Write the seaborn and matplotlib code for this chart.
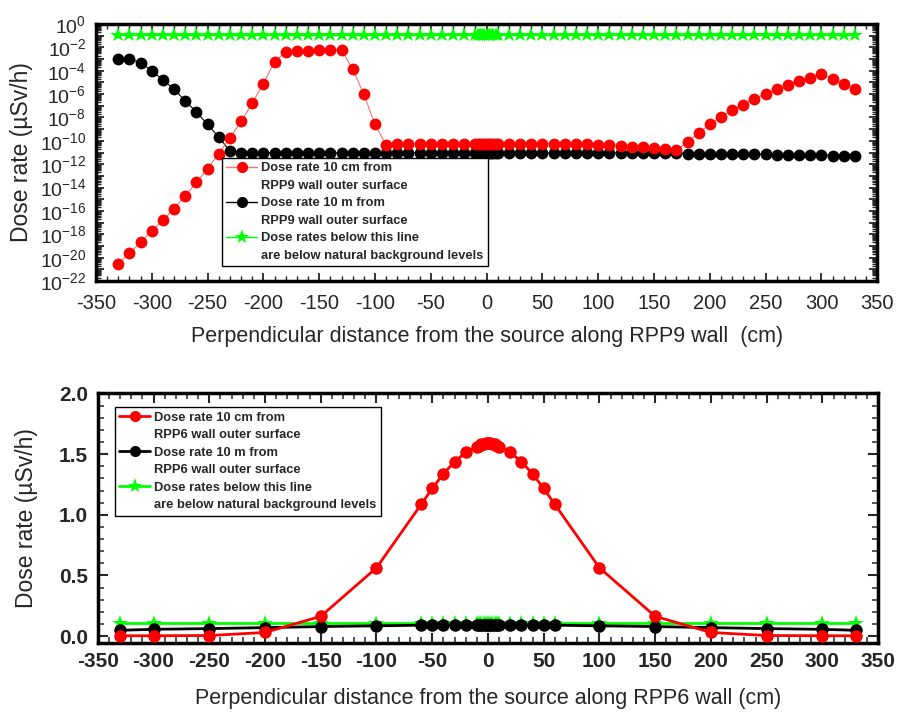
import numpy as np
import pandas as pd
import matplotlib
matplotlib.use("Agg")
import matplotlib.pyplot as plt
import matplotlib.ticker as mticker
from matplotlib.lines import Line2D
import seaborn as sns

# ---------------- data: RPP9 wall (log scale panel) ----------------
x_rpp9 = [-330, -320, -310, -300, -290, -280, -270, -260, -250, -240,
          -230, -220, -210, -200, -190, -180, -170, -160, -150, -140,
          -130, -120, -110, -100, -90, -80, -70, -60, -50, -40,
          -30, -20,
          -10, -8, -6, -4, -2, 0, 2, 4, 6, 8, 10,
          20, 30, 40, 50, 60, 70, 80, 90, 100, 110,
          120, 130, 140, 150, 160, 170, 180, 190, 200, 210,
          220, 230, 240, 250, 260, 270, 280, 290, 300, 310,
          320, 330]

dose_10cm_rpp9 = [3e-21, 2.5e-20, 2e-19, 2e-18, 1.6e-17, 1.6e-16, 2e-15, 2.8e-14, 4e-13, 8e-12,
                  1.8e-10, 4.6e-9, 1.7e-7, 8e-6, 5.8e-4, 4.2e-3, 5.1e-3, 5.1e-3, 5.9e-3, 6.3e-3,
                  6.3e-3, 1.35e-4, 9.5e-7, 2.5e-9, 4.3e-11, 5.5e-11, 5.9e-11, 5.9e-11, 5.9e-11, 5.9e-11,
                  5.9e-11, 5.9e-11,
                  5.9e-11, 5.9e-11, 5.9e-11, 5.9e-11, 5.9e-11, 5.9e-11, 5.9e-11, 5.9e-11, 5.9e-11, 5.9e-11, 5.9e-11,
                  5.9e-11, 5.9e-11, 5.9e-11, 5.9e-11, 5.9e-11, 5.8e-11, 5.6e-11, 5.3e-11, 4.3e-11, 4e-11,
                  3.7e-11, 3.2e-11, 2.8e-11, 2.3e-11, 2.2e-11, 1.8e-11, 7.8e-11, 4.9e-10, 2.5e-9, 1.15e-8,
                  4.4e-8, 1.26e-7, 4.1e-7, 1e-6, 3e-6, 6.5e-6, 1.45e-5, 2.6e-5, 5e-5, 2.1e-5,
                  6.9e-6, 2.6e-6]

dose_10m_rpp9 = [1e-3, 1e-3, 5e-4, 9.8e-5, 1.66e-5, 2.6e-6, 2.6e-7, 2.9e-8, 2.5e-9, 2.1e-10,
                 1.3e-11, 9.3e-12, 9.3e-12, 9.3e-12, 9.3e-12, 9.3e-12, 9.3e-12, 9.3e-12, 9.3e-12, 9.3e-12,
                 9.3e-12, 9.3e-12, 9.3e-12, 9.3e-12, 9.3e-12, 9.3e-12, 9.3e-12, 9.3e-12, 9.3e-12, 9.3e-12,
                 9.3e-12, 9.3e-12,
                 9.3e-12, 9.3e-12, 9.3e-12, 9.3e-12, 9.3e-12, 9.3e-12, 9.3e-12, 9.3e-12, 9.3e-12, 9.3e-12, 9.3e-12,
                 9.3e-12, 9.3e-12, 9.3e-12, 9.3e-12, 9.3e-12, 9.3e-12, 9.3e-12, 9.3e-12, 9.3e-12, 9.3e-12,
                 9.3e-12, 9.3e-12, 9.3e-12, 9.3e-12, 9.3e-12, 9.3e-12, 8.1e-12, 8.1e-12, 8.1e-12, 7.1e-12,
                 7.1e-12, 7.1e-12, 7.1e-12, 7.1e-12, 6.3e-12, 6.3e-12, 6.3e-12, 6.3e-12, 6.3e-12, 5.5e-12,
                 5.5e-12, 5.5e-12]

background_rpp9 = 0.12

# ---------------- data: RPP6 wall (linear panel) ----------------
x_rpp6 = [-330, -300, -250, -200, -150, -100, -60, -50, -40, -30, -20,
          -10, -8, -6, -4, -2, 0, 2, 4, 6, 8, 10,
          20, 30, 40, 50, 60, 100, 150, 200, 250, 300, 330]

dose_10cm_rpp6 = [0.003, 0.003, 0.005, 0.03, 0.163, 0.563, 1.085, 1.217, 1.338, 1.437, 1.515,
                  1.56, 1.57, 1.58, 1.585, 1.59, 1.59, 1.59, 1.585, 1.58, 1.57, 1.56,
                  1.515, 1.437, 1.338, 1.217, 1.085, 0.563, 0.163, 0.03, 0.005, 0.003, 0.003]

dose_10m_rpp6 = [0.048, 0.056, 0.062, 0.07, 0.079, 0.085, 0.09, 0.09, 0.09, 0.09, 0.09,
                 0.09, 0.09, 0.09, 0.09, 0.09, 0.09, 0.09, 0.09, 0.09, 0.09, 0.09,
                 0.09, 0.09, 0.09, 0.09, 0.09, 0.085, 0.079, 0.07, 0.062, 0.056, 0.048]

background_rpp6 = 0.11

x_ticks = [-350, -300, -250, -200, -150, -100, -50, 0, 50, 100, 150, 200, 250, 300, 350]

# ---------------- styling ----------------
sns.set_style("ticks")
plt.rcParams["font.family"] = ["Liberation Sans", "DejaVu Sans"]
plt.rcParams["mathtext.fontset"] = "custom"
plt.rcParams["mathtext.rm"] = "Liberation Sans"
plt.rcParams["mathtext.it"] = "Liberation Sans:italic"
plt.rcParams["mathtext.bf"] = "Liberation Sans:bold"
plt.rcParams["mathtext.default"] = "regular"
plt.rcParams["axes.unicode_minus"] = False

RED = "#ff0000"
GREEN = "#00ff00"

fig = plt.figure(figsize=(8.97, 7.14), dpi=100)
ax1 = fig.add_axes([0.107, 0.6064, 0.871, 0.36])
ax2 = fig.add_axes([0.109, 0.0999, 0.870, 0.349])


def two_line_legend(ax, handles, lines, anchor):
    """Legend where each marker sits beside the first of two text lines."""
    blank = Line2D([], [], linestyle="none", marker="none")
    hh, ll = [], []
    for h, (first, second) in zip(handles, lines):
        hh += [h, blank]
        ll += [first, second]
    leg = ax.legend(hh, ll, loc="upper left", bbox_to_anchor=anchor,
                    borderaxespad=0, frameon=True, fancybox=False, framealpha=1,
                    edgecolor="black", handlelength=2.4, handletextpad=0.3,
                    labelspacing=0.42, borderpad=0.35,
                    prop={"weight": "bold", "size": 9.3})
    leg.get_frame().set_linewidth(1.0)
    return leg


# ---- top panel: RPP9, log scale ----
df9 = pd.DataFrame({"x": x_rpp9, "near": dose_10cm_rpp9, "far": dose_10m_rpp9,
                    "bg": np.full(len(x_rpp9), background_rpp9)})

sns.lineplot(data=df9, x="x", y="bg", ax=ax1, color=GREEN, lw=1.0, marker="*",
             markersize=11.5, markeredgewidth=0, markerfacecolor=GREEN,
             legend=False, zorder=2)
sns.lineplot(data=df9, x="x", y="far", ax=ax1, color="black", lw=0.8, marker="o",
             markersize=8.5, markeredgewidth=0, markerfacecolor="black",
             legend=False, zorder=3)
sns.lineplot(data=df9, x="x", y="near", ax=ax1, color="#ff7070", lw=0.8, marker="o",
             markersize=8.5, markeredgewidth=0, markerfacecolor=RED,
             legend=False, zorder=4)

ax1.set_yscale("log")
ax1.set_ylim(1e-22, 1e0)
ax1.set_xlim(-350, 350)
ax1.yaxis.set_major_locator(mticker.LogLocator(base=10, numticks=30))
ax1.yaxis.set_minor_locator(mticker.LogLocator(base=10, subs=np.arange(2, 10), numticks=30))


def pow_label(v, pos):
    if v <= 0:
        return ""
    e = int(round(np.log10(v)))
    if e % 2:
        return ""
    return r"$10^{%d}$" % e


ax1.yaxis.set_major_formatter(mticker.FuncFormatter(pow_label))
ax1.yaxis.set_minor_formatter(mticker.NullFormatter())
ax1.set_xticks(x_ticks)
ax1.xaxis.set_minor_locator(mticker.MultipleLocator(10))
ax1.set_xlabel("Perpendicular distance from the source along RPP9 wall  (cm)",
               fontsize=15.5, labelpad=10)
ax1.set_ylabel("Dose rate (\u00b5Sv/h)", fontsize=16.5)
ax1.yaxis.set_label_coords(-0.081, 0.5)
ax1.tick_params(axis="both", which="major", direction="in", top=True, right=True,
                length=6, width=1.3)
ax1.tick_params(axis="x", which="major", labelsize=14.5, pad=9)
ax1.tick_params(axis="y", which="major", labelsize=14, pad=7)
ax1.tick_params(axis="both", which="minor", direction="in", top=True, right=True,
                length=3.5, width=1.0)

h_near9 = Line2D([], [], color="#ff7070", lw=1.0, marker="o", markersize=8,
                 markerfacecolor=RED, markeredgewidth=0)
h_far9 = Line2D([], [], color="black", lw=1.0, marker="o", markersize=8,
                markerfacecolor="black", markeredgewidth=0)
h_bg9 = Line2D([], [], color=GREEN, lw=1.0, marker="*", markersize=11,
               markerfacecolor=GREEN, markeredgewidth=0)
two_line_legend(ax1, [h_near9, h_far9, h_bg9],
                [("Dose rate 10 cm from", "RPP9 wall outer surface"),
                 ("Dose rate 10 m from", "RPP9 wall outer surface"),
                 ("Dose rates below this line", "are below natural background levels")],
                (0.161, 0.479))

# ---- bottom panel: RPP6, linear scale ----
df6 = pd.DataFrame({"x": x_rpp6, "near": dose_10cm_rpp6, "far": dose_10m_rpp6,
                    "bg": np.full(len(x_rpp6), background_rpp6)})

sns.lineplot(data=df6, x="x", y="bg", ax=ax2, color=GREEN, lw=2.0, marker="*",
             markersize=11.5, markeredgewidth=0, markerfacecolor=GREEN,
             legend=False, zorder=2)
sns.lineplot(data=df6, x="x", y="far", ax=ax2, color="black", lw=2.0, marker="o",
             markersize=9, markeredgewidth=0, markerfacecolor="black",
             legend=False, zorder=3)
sns.lineplot(data=df6, x="x", y="near", ax=ax2, color=RED, lw=2.0, marker="o",
             markersize=9, markeredgewidth=0, markerfacecolor=RED,
             legend=False, zorder=4)

ax2.set_xlim(-350, 350)
ax2.set_ylim(-0.054, 2.0)
ax2.set_xticks(x_ticks)
ax2.xaxis.set_minor_locator(mticker.MultipleLocator(10))
ax2.yaxis.set_major_locator(mticker.MultipleLocator(0.5))
ax2.yaxis.set_minor_locator(mticker.MultipleLocator(0.1))
ax2.yaxis.set_major_formatter(mticker.FormatStrFormatter("%.1f"))
ax2.set_xlabel("Perpendicular distance from the source along RPP6 wall (cm)",
               fontsize=15.5, labelpad=12)
ax2.set_ylabel("Dose rate (\u00b5Sv/h)", fontsize=16.5)
ax2.yaxis.set_label_coords(-0.076, 0.5)
ax2.tick_params(axis="both", which="major", direction="in", top=True, right=True,
                length=7, width=1.5, labelsize=15, pad=7)
ax2.tick_params(axis="both", which="minor", direction="in", top=True, right=True,
                length=4, width=1.1)
for lbl in ax2.get_xticklabels() + ax2.get_yticklabels():
    lbl.set_fontweight("bold")

h_near6 = Line2D([], [], color=RED, lw=2.0, marker="o", markersize=8,
                 markerfacecolor=RED, markeredgewidth=0)
h_far6 = Line2D([], [], color="black", lw=2.0, marker="o", markersize=8,
                markerfacecolor="black", markeredgewidth=0)
h_bg6 = Line2D([], [], color=GREEN, lw=2.0, marker="*", markersize=11,
               markerfacecolor=GREEN, markeredgewidth=0)
two_line_legend(ax2, [h_near6, h_far6, h_bg6],
                [("Dose rate 10 cm from", "RPP6 wall outer surface"),
                 ("Dose rate 10 m from", "RPP6 wall outer surface"),
                 ("Dose rates below this line", "are below natural background levels")],
                (0.022, 0.944))

for ax in (ax1, ax2):
    for sp in ax.spines.values():
        sp.set_visible(True)
        sp.set_linewidth(2.5)
        sp.set_color("black")

fig.savefig("out.png", dpi=100, facecolor="white")
